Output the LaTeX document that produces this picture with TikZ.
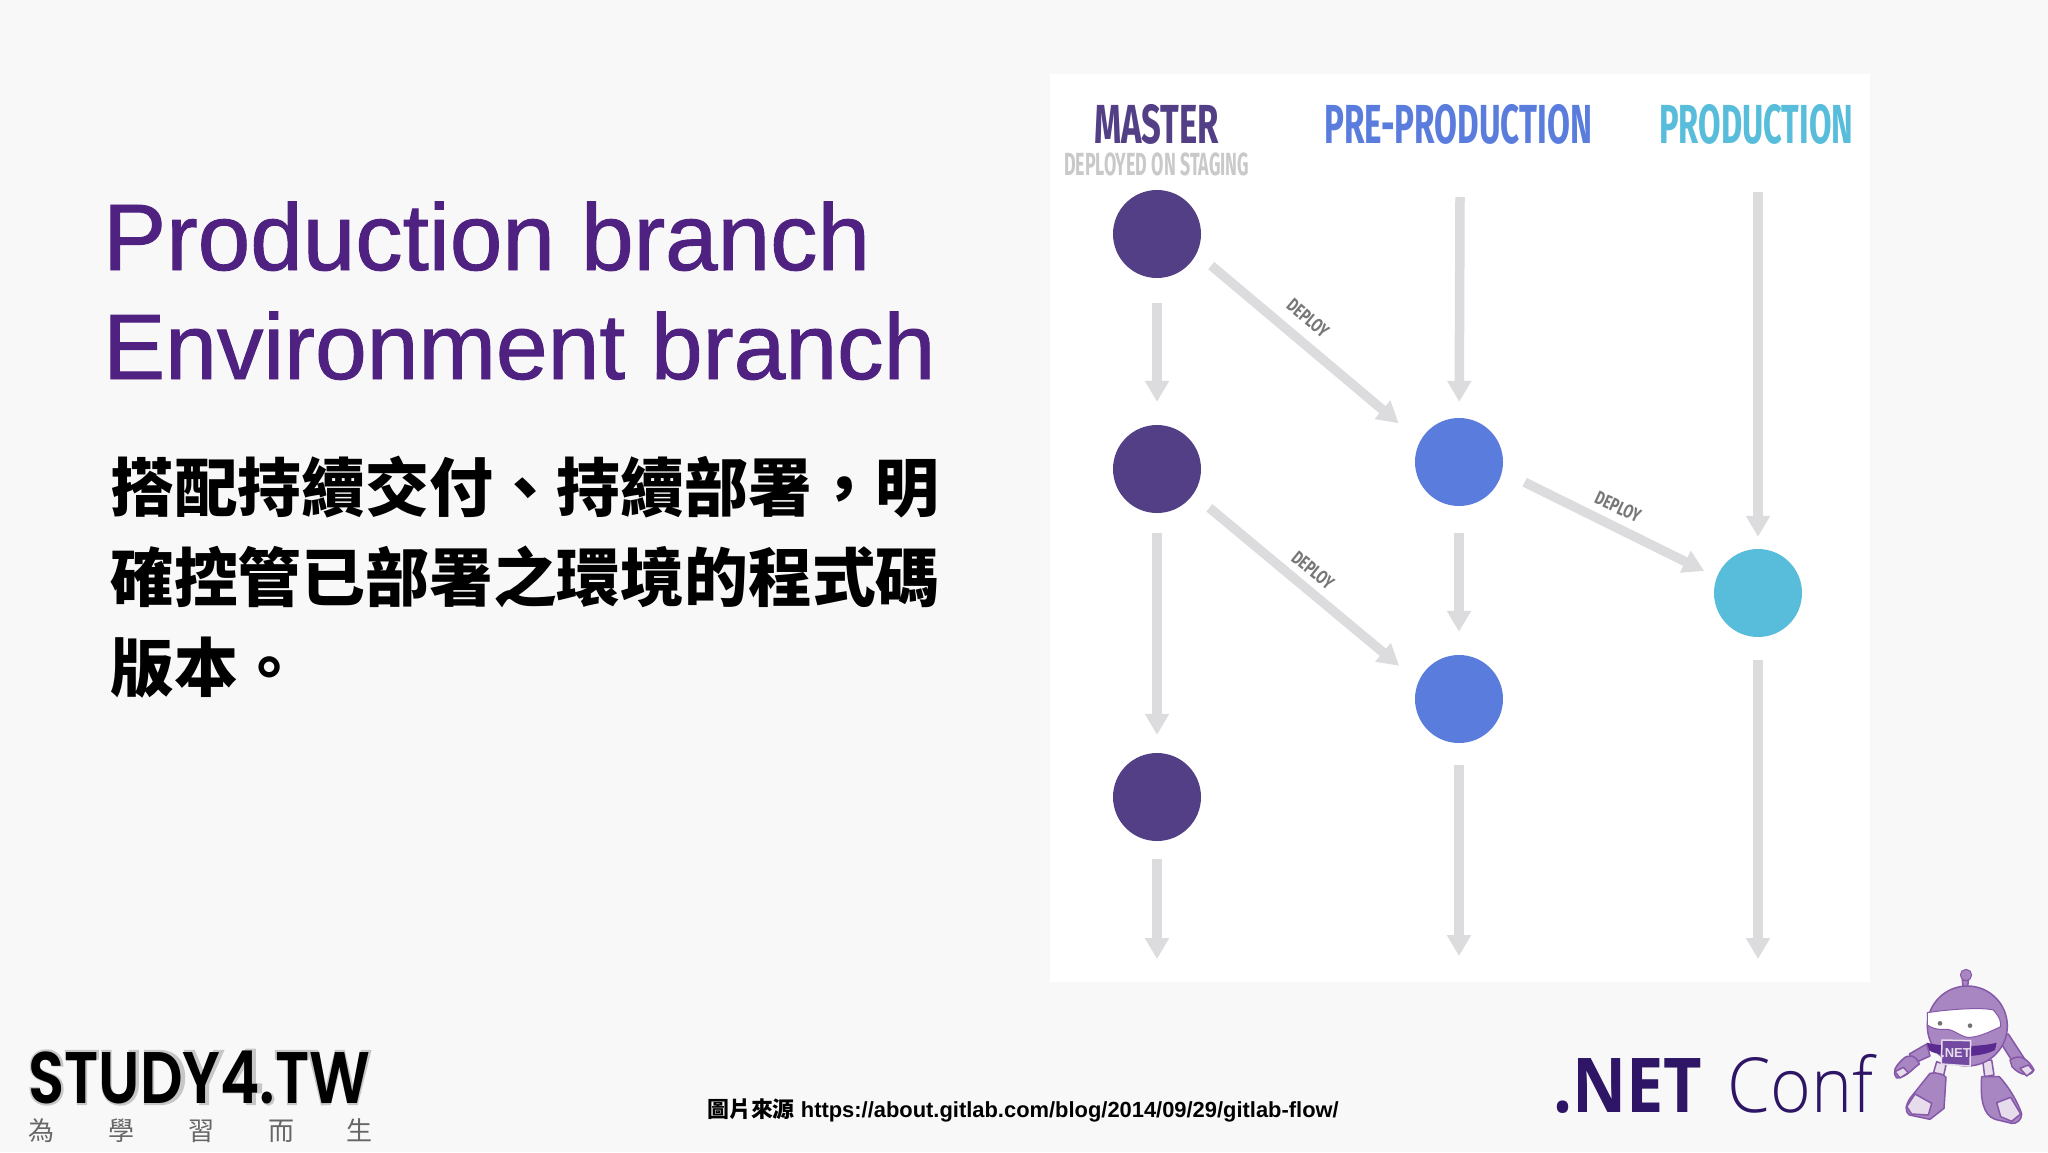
\documentclass[tikz,border=0pt]{standalone}
\usepackage{fontspec}
\usetikzlibrary{arrows.meta}
\setmainfont{Liberation Sans}
\newfontfamily\titlefont[FakeBold=1]{Liberation Sans}
\newfontfamily\cjk{Noto Sans CJK TC}
\newfontfamily\barfont{Fira Sans}
\newfontfamily\logofont{Poppins SemiBold}
\newfontfamily\logohalo[FakeBold=6]{Poppins}
\newfontfamily\confb{Open Sans}
\newfontfamily\confl{Open Sans Light}
% sets #3 in the current font at size #2, stretched to the width #1 (in pt)
\newcommand\fitw[3]{\begingroup\fontsize{#2}{#2}\selectfont
  \setbox0\hbox{#3}\pgfmathsetmacro\fitfac{#1/\wd0}%
  \edef\fitdo{\noexpand\addfontfeature{FakeStretch=\fitfac}}\fitdo #3\endgroup}
\definecolor{bgc}{HTML}{F8F8F9}
\definecolor{titlec}{HTML}{4F2180}
\definecolor{mastc}{HTML}{523F86}
\definecolor{prec}{HTML}{5A7CDD}
\definecolor{prodc}{HTML}{57BDDB}
\definecolor{arrc}{HTML}{DCDBDD}
\definecolor{subc}{HTML}{C9C9C9}
\definecolor{depc}{HTML}{777777}
\definecolor{navy}{HTML}{2E1565}
\definecolor{rline}{HTML}{8558A8}
\definecolor{rfill}{HTML}{A886C2}
\definecolor{rdark}{HTML}{5A2A90}
\definecolor{rpale}{HTML}{E6DCEC}
\tikzset{
  commit/.style={circle,minimum size=88pt,inner sep=0pt,fill=#1},
  flow/.style={draw=arrc,line width=9.5pt,-{Triangle[width=23pt,length=21pt]}},
  colhead/.style={inner sep=0pt,anchor=base west,font=\barfont\bfseries},
  deploylab/.style={inner sep=0pt,text=depc,font=\barfont\bfseries},
  rob/.style={draw=rline,line width=1.5pt,line join=round},
}
\begin{document}
\begin{tikzpicture}[x=1pt,y=-1pt]
\useasboundingbox (0,0) rectangle (2048,1152);
\fill[bgc] (0,0) rectangle (2048,1152);
\fill[white] (1050,74) rectangle (1870,982);

% left text
\node[anchor=base west,inner sep=0pt,text=titlec,font=\titlefont\fontsize{94.5}{108}\selectfont] (t1) at (103,270) {Production branch};
\node[anchor=base west,inner sep=0pt,text=titlec,font=\titlefont\fontsize{93}{108}\selectfont] (t2) at (103,379) {Environment branch};
\node[anchor=west,inner sep=0pt,align=left,text=black,font=\cjk\bfseries\fontsize{63.8}{90}\selectfont] (body) at (110,577) {搭配持續交付、持續部署，明\\確控管已部署之環境的程式碼\\版本。};

% column heads
\node[colhead,text=mastc] (hm) at (1094,143) {\fitw{125}{55}{MASTER}};
\node[colhead,text=prec] (hp) at (1324,143) {\fitw{268}{55}{PRE-PRODUCTION}};
\node[colhead,text=prodc] (hq) at (1659,143) {\fitw{194}{55}{PRODUCTION}};
\node[colhead,text=subc] (hs) at (1064,175) {\fitw{185}{32}{DEPLOYED ON STAGING}};

% commits
\node[commit=mastc] (m1) at (1157,234) {};
\node[commit=mastc] (m2) at (1157,469) {};
\node[commit=mastc] (m3) at (1157,797) {};
\node[commit=prec] (p1) at (1459,462) {};
\node[commit=prec] (p2) at (1459,699) {};
\node[commit=prodc] (q1) at (1758,593) {};
\coordinate (m4) at (1157,959);
\coordinate (p0) at (1460,197);
\coordinate (p3) at (1459,956);
\coordinate (q0) at (1758,192);
\coordinate (q2) at (1758,959);

% vertical flows
\draw[flow,shorten <=25pt,shorten >=23pt] (m1) -- (m2);
\draw[flow,shorten <=20pt,shorten >=18pt] (m2) -- (m3);
\draw[flow,shorten <=18pt] (m3) -- (m4);
\draw[flow,shorten >=16pt] (p0) -- (p1);
\draw[flow,shorten <=27pt,shorten >=23pt] (p1) -- (p2);
\draw[flow,shorten <=22pt] (p2) -- (p3);
\draw[flow,shorten >=12pt] (q0) -- (q1);
\draw[flow,shorten <=23pt] (q1) -- (q2);

% deploy flows
\draw[flow,shorten <=19pt,shorten >=28pt] (m1.-26) -- (p1.152);
\draw[flow,shorten <=21pt,shorten >=25pt] (m2.-35) -- (p2.157);
\draw[flow,shorten <=25pt,shorten >=14pt] (p1.-12) -- (q1.159);

\node[deploylab,rotate=-40] (d1) at (1308,318) {\fitw{48}{19}{DEPLOY}};
\node[deploylab,rotate=-25] (d2) at (1618,507) {\fitw{48}{19}{DEPLOY}};
\node[deploylab,rotate=-39] (d3) at (1313,570) {\fitw{48}{19}{DEPLOY}};

% footer
\node[anchor=base west,inner sep=0pt,text=black,font=\fontsize{21.9}{26}\selectfont\bfseries] (src) at (707,1117) {{\cjk 圖片來源} https://about.gitlab.com/blog/2014/09/29/gitlab-flow/};

% study4 logo
\node[anchor=base west,inner sep=0pt,text=black!22,font=\logohalo] (logoh) at (28,1103) {\fitw{342}{73}{STUDY4.TW}};
\node[anchor=base west,inner sep=0pt,text=black,font=\logofont] (logo) at (28,1103) {\fitw{342}{73}{STUDY4.TW}};
\node[anchor=west,inner sep=0pt,text=black!60,font=\cjk\fontsize{26}{28}\selectfont] (motto) at (28,1131) {為\hspace{54pt}學\hspace{54pt}習\hspace{54pt}而\hspace{52pt}生};

% .NET Conf
\node[anchor=base west,inner sep=0pt,text=navy] (conf) at (1553,1112) {{\confb\bfseries\fitw{149}{75.6}{.NET}}\hspace{25pt}{\confl\fitw{146}{76}{Conf}}};

% robot
\begin{scope}[shift={(1880,960)},x=0.3333pt,y=-0.3333pt]
  % antenna
  \draw[rob,fill=rfill] (247,60) -- (250,92) -- (262,92) -- (265,60) -- cycle;
  \fill[rfill,draw=rline,line width=1pt] (258,45) circle [x radius=17,y radius=17];
  % arms
  \draw[rob,fill=rfill] (140,252) -- (88,282) -- (102,310) -- (150,288) -- cycle;
  \draw[rob,fill=rfill] (345,222) -- (385,222) -- (436,300) -- (405,316) -- cycle;
  \draw[rob,fill=rfill] (68,298) .. controls (85,280) and (108,286) .. (118,312) .. controls (95,328) and (80,352) .. (50,354) .. controls (36,335) and (45,320) .. (68,298) -- cycle;
  \draw[rob,fill=rpale] (45,335) -- (70,322) -- (85,338) -- (60,354) -- cycle;
  \draw[rob,fill=rfill] (390,300) .. controls (420,278) and (447,300) .. (462,330) .. controls (452,352) and (420,347) .. (396,320) -- cycle;
  \draw[rob,fill=rpale] (420,325) -- (445,315) -- (460,332) -- (440,348) -- cycle;
  % legs
  \draw[rob,fill=rpale] (170,305) -- (198,315) -- (190,350) -- (160,340) -- cycle;
  \draw[rob,fill=rpale] (308,300) -- (335,300) -- (342,345) -- (314,350) -- cycle;
  % feet
  \draw[rob,fill=rfill] (150,340) .. controls (170,335) and (195,345) .. (198,352) -- (192,445) -- (150,478) -- (88,465) .. controls (72,450) and (78,435) .. (90,415) -- cycle;
  \draw[rob,fill=rpale] (80,440) -- (105,402) -- (155,430) -- (145,465) -- (95,462) -- cycle;
  \draw[rob,fill=rfill] (305,350) -- (358,350) .. controls (390,385) and (415,430) .. (425,462) .. controls (425,480) and (410,492) .. (395,490) -- (345,478) .. controls (310,465) and (300,420) .. (305,350) -- cycle;
  \draw[rob,fill=rpale] (350,428) -- (392,412) -- (422,462) -- (395,484) -- (362,470) -- cycle;
  % body
  \fill[rfill,draw=rline,line width=1.5pt] (262,198) circle [x radius=120,y radius=120];
  \fill[rdark] (140,248) .. controls (190,262) and (300,262) .. (350,248) -- (345,270) .. controls (300,295) and (190,295) .. (148,272) -- cycle;
  % visor
  \draw[line width=1pt,draw=rline,fill=white] (142,158) .. controls (190,150) and (300,140) .. (340,150) .. controls (362,175) and (362,185) .. (362,200) .. controls (330,215) and (300,230) .. (270,232) .. controls (245,235) and (220,205) .. (195,208) .. controls (175,210) and (155,205) .. (142,195) -- cycle;
  \fill[black!55] (180,190) circle [radius=7];
  \fill[black!55] (270,197) circle [radius=7];
  % badge
  \draw[line width=1.5pt,draw=rpale,fill=rdark!85!white] (186,240) -- (272,242) -- (270,318) -- (184,312) -- cycle;
  \node[inner sep=0pt,text=rpale,font=\bfseries\fontsize{13}{14}\selectfont] (badge) at (228,279) {.NET};
\end{scope}
\end{tikzpicture}
\end{document}
